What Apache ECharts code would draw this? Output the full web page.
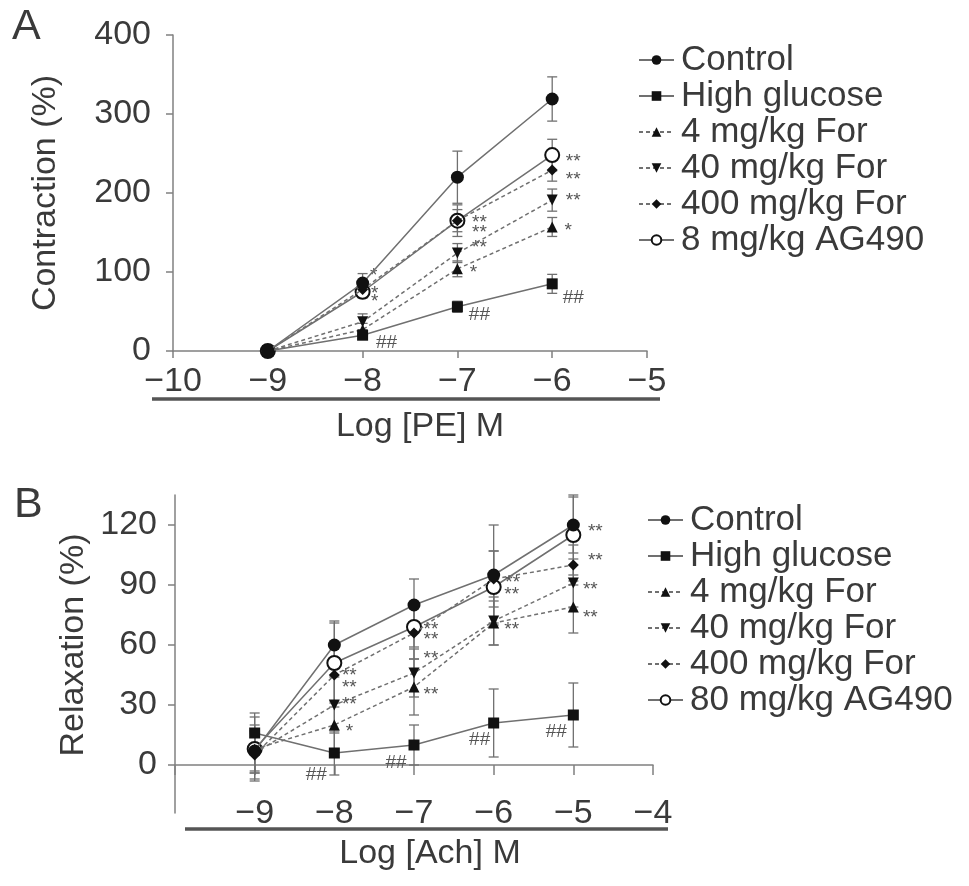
<!DOCTYPE html>
<html><head><meta charset="utf-8">
<script src="https://cdn.jsdelivr.net/npm/echarts@6/dist/echarts.min.js"></script>
<style>html,body{margin:0;padding:0;background:#fff}#c{width:969px;height:886px}</style>
</head><body><div id="c"></div>
<script>
// ---------------- DATA ----------------
// Panel A: contraction vs Log [PE] M
const xA = [-9, -8, -7, -6];
const xTicksA = [-10, -9, -8, -7, -6, -5];
const yTicksA = [0, 100, 200, 300, 400];
const namesA = ['Control', 'High glucose', '4 mg/kg For', '40 mg/kg For', '400 mg/kg For', '8 mg/kg AG490'];
const controlA = [0, 86, 220, 319];
const controlErrA = [0, 12, 33, 28];
const highGlucoseA = [0, 20, 56, 85];
const highGlucoseErrA = [0, 5, 7, 12];
const for4A = [0, 27, 104, 157];
const for4ErrA = [0, 8, 10, 12];
const for40A = [0, 37, 124, 191];
const for40ErrA = [0, 10, 12, 14];
const for400A = [0, 78, 165, 229];
const for400ErrA = [0, 10, 14, 14];
const ag490A = [0, 75, 165, 248];
const ag490ErrA = [0, 8, 20, 20];
const annControlA = ['', '', '', ''];
const annHighGlucoseA = ['', '##', '##', '##'];
const annFor4A = ['', '', '*', '*'];
const annFor40A = ['', '*', '**', '**'];
const annFor400A = ['', '*', '**', '**'];
const annAg490A = ['', '*', '**', '**'];

// Panel B: relaxation vs Log [Ach] M
const xB = [-9, -8, -7, -6, -5];
const xTicksB = [-9, -8, -7, -6, -5, -4];
const yTicksB = [0, 30, 60, 90, 120];
const namesB = ['Control', 'High glucose', '4 mg/kg For', '40 mg/kg For', '400 mg/kg For', '80 mg/kg AG490'];
const controlB = [7, 60, 80, 95, 120];
const controlErrB = [10, 12, 13, 25, 14];
const highGlucoseB = [16, 6, 10, 21, 25];
const highGlucoseErrB = [10, 11, 10, 17, 16];
const for4B = [8, 20, 39, 71, 79];
const for4ErrB = [12, 12, 14, 11, 13];
const for40B = [6, 30, 46, 72, 91];
const for40ErrB = [10, 14, 12, 12, 12];
const for400B = [5, 45, 66, 93, 100];
const for400ErrB = [12, 16, 13, 14, 10];
const ag490B = [8, 51, 69, 89, 115];
const ag490ErrB = [16, 20, 10, 18, 20];
const annControlB = ['', '', '', '', ''];
const annHighGlucoseB = ['', '##', '##', '##', '##'];
const annFor4B = ['', '*', '**', '**', '**'];
const annFor40B = ['', '**', '**', '', '**'];
const annFor400B = ['', '**', '**', '**', '**'];
const annAg490B = ['', '**', '**', '**', '**'];

// ---------------- LAYOUT / STYLE ----------------
const FONT = '"Liberation Sans", Arial, Helvetica, sans-serif';
const TXT = '#3a3a3a';
const LINE = '#707070';
const MARK = '#111';
const AXIS = '#808080';
// label displacement (px) relative to each point
const offA = {
  hg: [[0,0],[24,8],[22,8],[21,14]],
  f4: [[0,0],[0,0],[16,4],[16,4]],
  f40: [[0,0],[12,-20],[22,-5],[21,1]],
  f400: [[0,0],[11,-14],[22,12],[21,10]],
  ag: [[0,0],[12,2],[22,2],[21,7]]
};
const offB = {
  hg: [[0,0],[-18,22],[-18,18],[-14,17],[-17,17]],
  f4: [[0,0],[15,7],[17,8],[18,7],[17,11]],
  f40: [[0,0],[15,0],[17,-14],[0,0],[17,7]],
  f400: [[0,0],[15,1],[17,7],[19,4],[22,-4]],
  ag: [[0,0],[15,25],[17,3],[18,8],[22,-3]]
};
const minusFmt = v => (v < 0 ? '\u2212' + Math.abs(v) : String(v));
const downTri = 'path://M0,0L10,0L5,9Z';

function pts(xs, ys, ann, off) {
  return xs.map((x, i) => ({
    value: [x, ys[i]],
    label: {
      show: !!ann[i],
      formatter: ann[i] || '',
      offset: off ? off[i] : [0, 0]
    }
  }));
}
function lineSeries(name, xs, ys, ann, off, sym, size, dashed, ax, z, extra) {
  return Object.assign({
    type: 'line', name: name, xAxisIndex: ax, yAxisIndex: ax,
    data: pts(xs, ys, ann, off),
    symbol: sym, symbolSize: size,
    lineStyle: { color: LINE, width: 1.5, type: dashed ? [4, 3] : 'solid' },
    itemStyle: { color: MARK },
    label: { position: 'inside', fontSize: 19, color: '#555', fontFamily: FONT },
    z: z, animation: false
  }, extra || {});
}
function errSeries(xs, ys, es, ax) {
  return {
    type: 'custom', xAxisIndex: ax, yAxisIndex: ax, silent: true, z: 1,
    data: xs.map((x, i) => [x, ys[i], es[i]]),
    encode: { x: 0, y: 1 },
    renderItem: function (params, api) {
      const x = api.value(0), m = api.value(1), e = api.value(2);
      if (!e) return { type: 'group', children: [] };
      const t = api.coord([x, m + e]), b = api.coord([x, m - e]);
      const w = 5, st = { stroke: LINE, lineWidth: 1.3 };
      return { type: 'group', children: [
        { type: 'line', shape: { x1: t[0], y1: t[1], x2: b[0], y2: b[1] }, style: st },
        { type: 'line', shape: { x1: t[0] - w, y1: t[1], x2: t[0] + w, y2: t[1] }, style: st },
        { type: 'line', shape: { x1: b[0] - w, y1: b[1], x2: b[0] + w, y2: b[1] }, style: st }
      ]};
    }
  };
}
const emptyCircleStyle = { itemStyle: { color: MARK, borderColor: MARK, borderWidth: 2.5 } };

const axisLineStyle = { lineStyle: { color: AXIS, width: 1.5 } };
const tickStyle = { lineStyle: { color: AXIS, width: 1.5 } };
const labelBase = { fontSize: 34, color: TXT, fontFamily: FONT };

const option = {
  animation: false,
  backgroundColor: '#fff',
  grid: [
    { left: 173, top: 35, width: 474, height: 316, containLabel: false, outerBoundsMode: 'none' },
    { left: 175, top: 495, width: 478, height: 318, containLabel: false, outerBoundsMode: 'none' }
  ],
  xAxis: [
    { gridIndex: 0, type: 'value', min: xTicksA[0], max: xTicksA[xTicksA.length - 1], interval: 1,
      axisLine: axisLineStyle, axisTick: Object.assign({ length: 7 }, tickStyle),
      axisLabel: Object.assign({ margin: 14, formatter: minusFmt }, labelBase),
      splitLine: { show: false },
      name: 'Log [PE] M', nameLocation: 'middle', nameGap: 59,
      nameTextStyle: Object.assign({ padding: [0, 0, 0, 20] }, labelBase) },
    { gridIndex: 1, type: 'value', min: -10, max: xTicksB[xTicksB.length - 1], interval: 1,
      axisLine: axisLineStyle, axisTick: Object.assign({ length: 10 }, tickStyle),
      axisLabel: Object.assign({ margin: -16, formatter: v => (xTicksB.indexOf(v) >= 0 ? minusFmt(v) : '') }, labelBase),
      splitLine: { show: false },
      name: 'Log [Ach] M', nameLocation: 'middle', nameGap: 24,
      nameTextStyle: Object.assign({ padding: [0, 0, 0, 32] }, labelBase) }
  ],
  yAxis: [
    { gridIndex: 0, type: 'value', min: yTicksA[0], max: yTicksA[yTicksA.length - 1], interval: 100,
      axisLine: Object.assign({ show: true }, axisLineStyle), axisTick: Object.assign({ show: true, length: 7 }, tickStyle),
      axisLabel: Object.assign({ margin: 22 }, labelBase),
      splitLine: { show: false },
      name: 'Contraction (%)', nameLocation: 'middle', nameGap: 110,
      nameTextStyle: labelBase },
    { gridIndex: 1, type: 'value', min: -24, max: 135,
      axisLine: Object.assign({ show: true }, axisLineStyle),
      axisTick: Object.assign({ show: true, length: 7, customValues: yTicksB }, tickStyle),
      axisLabel: Object.assign({ margin: 18, customValues: yTicksB }, labelBase),
      splitLine: { show: false },
      name: 'Relaxation (%)', nameLocation: 'middle', nameGap: 84,
      nameTextStyle: Object.assign({ padding: [0, 0, 0, 18] }, labelBase) }
  ],
  legend: [
    { orient: 'vertical', left: 633, top: 37, itemWidth: 35, itemHeight: 12, itemGap: 0,
      data: namesA, textStyle: { fontSize: 35, lineHeight: 36, color: TXT, fontFamily: FONT, padding: [0, 0, 0, 2] } },
    { orient: 'vertical', left: 642, top: 497, itemWidth: 35, itemHeight: 12, itemGap: 0,
      data: namesB, textStyle: { fontSize: 35, lineHeight: 36, color: TXT, fontFamily: FONT, padding: [0, 0, 0, 2] } }
  ],
  graphic: [
    { type: 'text', left: 12, top: 6, style: { text: 'A', fontSize: 43, fill: TXT, fontFamily: FONT } },
    { type: 'text', left: 14, top: 484, style: { text: 'B', fontSize: 43, fill: TXT, fontFamily: FONT } },
    { type: 'line', shape: { x1: 152, y1: 399, x2: 660, y2: 399 }, style: { stroke: '#555', lineWidth: 3.5 } },
    { type: 'line', shape: { x1: 185, y1: 829, x2: 668, y2: 829 }, style: { stroke: '#555', lineWidth: 3.5 } }
  ],
  series: [
    errSeries(xA, controlA, controlErrA, 0),
    errSeries(xA, highGlucoseA, highGlucoseErrA, 0),
    errSeries(xA, for4A, for4ErrA, 0),
    errSeries(xA, for40A, for40ErrA, 0),
    errSeries(xA, for400A, for400ErrA, 0),
    errSeries(xA, ag490A, ag490ErrA, 0),
    lineSeries(namesA[5], xA, ag490A, annAg490A, offA.ag, 'emptyCircle', 14, false, 0, 3, emptyCircleStyle),
    lineSeries(namesA[4], xA, for400A, annFor400A, offA.f400, 'diamond', 11, true, 0, 4),
    lineSeries(namesA[3], xA, for40A, annFor40A, offA.f40, downTri, 11, true, 0, 4),
    lineSeries(namesA[2], xA, for4A, annFor4A, offA.f4, 'triangle', 11, true, 0, 4),
    lineSeries(namesA[1], xA, highGlucoseA, annHighGlucoseA, offA.hg, 'rect', 11, false, 0, 4),
    lineSeries(namesA[0], xA, controlA, annControlA, null, 'circle', 13, false, 0, 5),

    errSeries(xB, controlB, controlErrB, 1),
    errSeries(xB, highGlucoseB, highGlucoseErrB, 1),
    errSeries(xB, for4B, for4ErrB, 1),
    errSeries(xB, for40B, for40ErrB, 1),
    errSeries(xB, for400B, for400ErrB, 1),
    errSeries(xB, ag490B, ag490ErrB, 1),
    lineSeries(namesB[5], xB, ag490B, annAg490B, offB.ag, 'emptyCircle', 14, false, 1, 3, emptyCircleStyle),
    lineSeries(namesB[4], xB, for400B, annFor400B, offB.f400, 'diamond', 11, true, 1, 4),
    lineSeries(namesB[3], xB, for40B, annFor40B, offB.f40, downTri, 11, true, 1, 4),
    lineSeries(namesB[2], xB, for4B, annFor4B, offB.f4, 'triangle', 11, true, 1, 4),
    lineSeries(namesB[1], xB, highGlucoseB, annHighGlucoseB, offB.hg, 'rect', 11, false, 1, 4),
    lineSeries(namesB[0], xB, controlB, annControlB, null, 'circle', 13, false, 1, 5)
  ]
};
const chart = echarts.init(document.getElementById('c'), null, { renderer: 'canvas' });
chart.setOption(option);
</script>
</body></html>
